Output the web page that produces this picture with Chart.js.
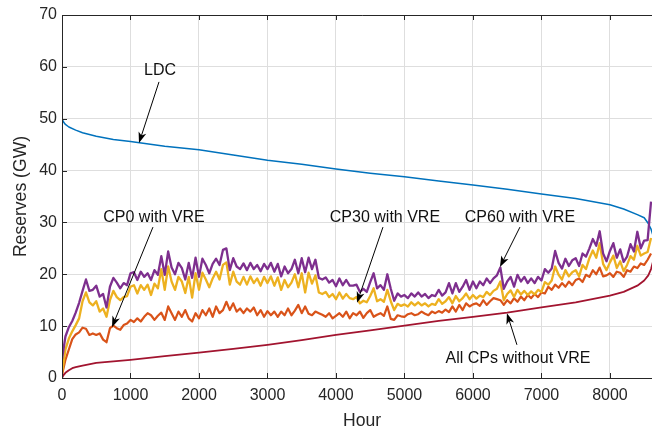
<!DOCTYPE html>
<html><head><meta charset="utf-8">
<script src="https://cdn.jsdelivr.net/npm/chart.js@4.4.1/dist/chart.umd.min.js"></script>
<style>
html,body{margin:0;padding:0;overflow:hidden;background:#fff;width:652px;height:432px}
#wrap{width:668px;height:432px;position:relative}
</style></head>
<body><div id="wrap"><canvas id="c" width="668" height="432"></canvas></div>
<script>
// ---- data ----
const hours = [
0,50,100,150,200,250,300,350,400,450,500,550,600,650,700,750,800,850,900,950,
1000,1050,1100,1150,1200,1250,1300,1350,1400,1450,1500,1550,1600,1650,1700,1750,1800,1850,1900,1950,
2000,2050,2100,2150,2200,2250,2300,2350,2400,2450,2500,2550,2600,2650,2700,2750,2800,2850,2900,2950,
3000,3050,3100,3150,3200,3250,3300,3350,3400,3450,3500,3550,3600,3650,3700,3750,3800,3850,3900,3950,
4000,4050,4100,4150,4200,4250,4300,4350,4400,4450,4500,4550,4600,4650,4700,4750,4800,4850,4900,4950,
5000,5050,5100,5150,5200,5250,5300,5350,5400,5450,5500,5550,5600,5650,5700,5750,5800,5850,5900,5950,
6000,6050,6100,6150,6200,6250,6300,6350,6400,6450,6500,6550,6600,6650,6700,6750,6800,6850,6900,6950,
7000,7050,7100,7150,7200,7250,7300,7350,7400,7450,7500,7550,7600,7650,7700,7750,7800,7850,7900,7950,
8000,8050,8100,8150,8200,8250,8300,8350,8400,8450,8500,8550,8600];

const cp60WithVRE = [
3.6,8.0,9.8,11.0,12.6,14.5,16.8,19.0,16.8,17.0,17.8,15.7,16.2,13.6,17.6,19.3,18.4,17.3,18.3,17.9,
20.2,20.4,18.9,20.5,19.5,20.2,18.9,20.8,19.9,23.5,19.9,24.4,21.3,20.0,22.2,21.2,19.0,22.2,19.3,23.2,
19.5,23.0,21.8,20.2,22.0,23.0,21.8,24.7,25.0,20.8,23.1,21.5,21.0,22.1,20.8,22.2,21.0,21.8,20.6,22.0,
21.0,22.2,20.5,22.0,19.6,21.5,20.2,21.0,22.8,20.2,23.1,20.4,23.2,21.0,22.8,19.3,19.0,19.4,18.4,18.9,
17.7,19.2,17.9,18.9,17.8,17.8,18.0,16.6,17.2,16.6,18.5,20.2,17.3,17.9,17.0,20.0,17.2,14.9,16.3,15.7,
16.0,15.4,16.3,15.7,16.5,15.7,16.2,15.4,16.0,15.8,17.0,15.9,16.5,18.3,16.3,18.3,16.6,17.6,18.9,17.0,
18.6,17.3,18.6,17.9,19.2,18.3,19.2,19.8,21.3,17.2,18.6,19.5,17.6,19.9,18.6,19.5,18.3,19.2,18.3,19.5,
18.8,21.0,20.3,21.1,24.5,22.2,21.1,23.0,21.6,22.7,23.1,21.6,24.0,23.4,25.0,26.8,25.5,28.3,24.0,22.5,
24.5,26.0,23.2,24.8,22.4,23.4,25.8,24.4,28.2,25.0,26.5,26.6,34.0];

const cp30WithVRE = [
0.9,5.5,7.6,9.0,10.2,11.5,14.8,16.5,14.6,14.0,14.8,12.8,13.4,11.8,15.0,16.8,15.6,15.0,15.6,15.8,
17.6,17.9,16.3,17.9,17.0,18.0,16.0,18.2,17.3,21.0,17.0,21.5,18.6,17.0,19.5,18.6,16.4,19.5,15.5,20.2,
17.0,20.3,19.0,17.5,19.2,20.5,19.0,21.8,22.3,18.0,20.5,18.6,18.0,19.5,18.0,19.6,18.3,19.2,17.8,19.5,
18.3,19.6,17.8,19.4,17.0,18.9,17.5,18.4,20.0,17.5,20.2,16.5,20.3,18.2,19.8,16.5,16.2,16.6,15.6,16.2,
15.2,16.5,15.3,16.2,15.4,15.2,15.6,14.4,14.9,14.6,15.8,17.3,14.8,15.2,14.7,17.0,14.8,13.1,14.3,13.9,
14.2,13.8,14.6,14.0,14.6,14.0,14.4,13.8,14.3,14.1,15.2,14.3,14.8,15.6,14.4,15.8,14.8,15.4,16.3,15.2,
16.0,15.3,15.9,15.6,16.6,16.0,16.8,17.2,18.6,15.0,16.2,16.9,15.6,17.0,16.1,16.8,16.0,16.7,16.1,17.0,
16.6,18.5,18.0,18.8,21.5,19.9,19.0,20.8,19.6,20.4,20.8,19.6,21.8,21.0,23.1,24.6,23.2,26.0,22.0,20.8,
22.3,23.6,21.2,22.5,20.6,21.8,23.5,22.8,25.5,23.6,24.0,24.3,27.0];

const cp0WithVRE = [
0.6,3.5,5.5,7.5,8.4,8.8,9.7,9.5,8.3,8.6,8.3,8.6,7.4,6.9,9.6,10.1,9.6,9.3,10.2,10.5,
11.2,10.8,11.5,10.9,11.8,12.5,12.1,11.2,12.0,12.6,11.2,13.8,12.5,11.2,12.8,11.8,13.1,11.5,10.9,12.5,
11.5,13.1,12.1,13.4,11.8,13.8,12.5,13.1,14.7,13.1,14.4,12.8,13.4,12.5,13.4,12.8,13.6,12.1,13.1,11.8,
12.9,12.1,12.8,11.8,12.8,12.1,13.4,12.1,13.0,14.1,12.5,13.8,12.4,12.1,12.8,12.5,12.2,11.8,12.5,11.5,
12.0,12.5,11.8,12.8,11.5,12.5,12.1,12.8,11.6,12.5,13.1,11.8,12.2,12.5,12.0,13.8,11.4,11.2,12.1,11.9,
11.8,12.3,12.5,12.1,12.3,12.8,12.4,12.1,12.8,12.5,12.9,12.6,13.2,12.7,13.8,12.8,14.1,13.1,14.4,13.8,
14.2,14.4,13.9,15.0,14.1,14.8,15.4,15.2,15.0,14.1,15.0,14.4,15.4,14.7,15.7,15.0,16.0,15.4,16.2,15.6,
16.5,16.3,17.6,17.0,18.0,17.4,18.3,17.6,18.6,17.9,18.9,19.2,18.5,19.9,19.5,20.8,20.0,21.3,19.6,19.8,
20.2,19.5,20.5,20.3,19.5,20.8,20.5,21.5,21.2,22.1,21.8,22.8,24.0];

const ldcHours  = [0,25,50,100,200,300,500,750,1000,1500,2000,2500,3000,3500,4000,4500,5000,5500,6000,6500,7000,7500,8000,8200,8400,8500,8560,8600,8640];
const ldcValues = [50.0,49.3,48.9,48.4,47.8,47.3,46.6,46.0,45.6,44.7,44.0,43.0,42.0,41.2,40.3,39.5,38.8,38.0,37.2,36.4,35.5,34.6,33.4,32.6,31.5,30.9,29.8,28.7,27.0];

const noVREHours  = [0,25,50,100,150,200,300,500,750,1000,1500,2000,2500,3000,3500,4000,4500,5000,5500,6000,6500,7000,7500,8000,8200,8400,8500,8560,8600,8640];
const noVREValues = [0,0.6,1.0,1.5,1.9,2.1,2.4,2.9,3.2,3.5,4.2,4.9,5.6,6.4,7.3,8.3,9.2,10.1,11.0,11.8,12.6,13.6,14.6,15.9,16.6,17.8,18.8,19.8,21.0,23.0];

const xTicks = [0,1000,2000,3000,4000,5000,6000,7000,8000];
const yTicks = [0,10,20,30,40,50,60,70];

// annotation labels (data units) and arrows (tail -> head, data units)
const annText  = ['LDC','CP0 with VRE','CP30 with VRE','CP60 with VRE','All CPs without VRE'];
const annX     = [1431, 1343, 4715, 6686, 6657];
const annY     = [59.2, 30.9, 31.0, 31.0, 3.7];
const arrTailX = [1416, 1328, 4686, 6686, 6642];
const arrTailY = [57.1, 29.1, 29.1, 29.1, 6.4];
const arrHeadX = [1124, 730, 4307, 6394, 6496];
const arrHeadY = [45.3, 9.8, 14.5, 21.4, 12.5];

// ---- chart ----
const pts = (xs, ys) => xs.map((x, i) => ({x, y: ys[i]}));
const FONT = '"Liberation Sans", Arial, sans-serif';
const AXC = '#262626';

const boxPlugin = {
  id: 'box',
  afterDatasetsDraw(chart) {
    const {ctx, chartArea: a, scales: {x, y}} = chart;
    ctx.save();
    ctx.strokeStyle = AXC; ctx.lineWidth = 1;
    ctx.beginPath();
    ctx.moveTo(a.left + 0.5, a.top); ctx.lineTo(a.left + 0.5, a.bottom + 0.5);
    ctx.lineTo(a.right + 0.5, a.bottom + 0.5); ctx.lineTo(a.right + 0.5, a.top + 0.5);
    ctx.lineTo(a.left, a.top + 0.5);
    xTicks.forEach(v => {
      const px = Math.round(x.getPixelForValue(v)) + 0.5;
      ctx.moveTo(px, a.bottom); ctx.lineTo(px, a.bottom - 5);
      ctx.moveTo(px, a.top); ctx.lineTo(px, a.top + 5);
    });
    yTicks.forEach(v => {
      const py = Math.round(y.getPixelForValue(v)) + 0.5;
      ctx.moveTo(a.left, py); ctx.lineTo(a.left + 5, py);
      ctx.moveTo(a.right, py); ctx.lineTo(a.right - 5, py);
    });
    ctx.stroke();

    // arrows
    ctx.strokeStyle = '#000'; ctx.fillStyle = '#000'; ctx.lineWidth = 1;
    annText.forEach((t, i) => {
      const x0 = x.getPixelForValue(arrTailX[i]), y0 = y.getPixelForValue(arrTailY[i]);
      const x1 = x.getPixelForValue(arrHeadX[i]), y1 = y.getPixelForValue(arrHeadY[i]);
      const ang = Math.atan2(y1 - y0, x1 - x0);
      const L = 11, W = 4;
      const bx = x1 - L * Math.cos(ang), by = y1 - L * Math.sin(ang);
      ctx.beginPath(); ctx.moveTo(x0, y0); ctx.lineTo(x1 - 6 * Math.cos(ang), y1 - 6 * Math.sin(ang)); ctx.stroke();
      ctx.beginPath();
      ctx.moveTo(x1, y1);
      ctx.lineTo(bx + W * Math.sin(ang), by - W * Math.cos(ang));
      ctx.lineTo(x1 - 8 * Math.cos(ang), y1 - 8 * Math.sin(ang));
      ctx.lineTo(bx - W * Math.sin(ang), by + W * Math.cos(ang));
      ctx.closePath(); ctx.fill();
    });
    // labels
    ctx.font = '16px ' + FONT; ctx.textAlign = 'center'; ctx.textBaseline = 'middle';
    ctx.fillStyle = '#111';
    annText.forEach((t, i) => ctx.fillText(t, x.getPixelForValue(annX[i]), y.getPixelForValue(annY[i])));
    ctx.restore();
  }
};

const line = (label, data, color, w) => ({
  label, data, borderColor: color, backgroundColor: color, borderWidth: w,
  pointRadius: 0, tension: 0, fill: false, borderJoinStyle: 'round'
});

new Chart(document.getElementById('c'), {
  type: 'line',
  data: {
    datasets: [
      line('All CPs without VRE', pts(noVREHours, noVREValues), '#A2142F', 1.8),
      line('CP60 with VRE', pts(hours, cp60WithVRE), '#7E2F8E', 2.3),
      line('CP30 with VRE', pts(hours, cp30WithVRE), '#EDB120', 2.3),
      line('CP0 with VRE', pts(hours, cp0WithVRE), '#D95319', 2.2),
      line('LDC', pts(ldcHours, ldcValues), '#0072BD', 1.5)
    ]
  },
  options: {
    responsive: false, animation: false, devicePixelRatio: 1, events: [],
    layout: {padding: {top: 15, right: 6, left: 0, bottom: 0}},
    plugins: {legend: {display: false}, tooltip: {enabled: false}},
    scales: {
      x: {
        type: 'linear', min: 0, max: 8760,
        afterBuildTicks: s => { s.ticks = xTicks.map(v => ({value: v})); },
        afterFit: s => { s.height = 54; },
        grid: {color: '#dedede', drawTicks: false},
        border: {display: false},
        ticks: {color: AXC, font: {family: FONT, size: 16}, padding: 8, maxRotation: 0, callback: v => String(v)},
        title: {display: true, text: 'Hour', color: AXC, font: {family: FONT, size: 17.6}, padding: {top: 0, bottom: 0}}
      },
      y: {
        type: 'linear', min: 0, max: 70,
        afterBuildTicks: s => { s.ticks = yTicks.map(v => ({value: v})); },
        afterFit: s => { s.width = 62; },
        grid: {color: '#dedede', drawTicks: false},
        border: {display: false},
        ticks: {color: AXC, font: {family: FONT, size: 16}, padding: 5, callback: v => String(v)},
        title: {display: true, text: 'Reserves (GW)', color: AXC, font: {family: FONT, size: 17.6}, padding: {top: 11, bottom: 0}}
      }
    }
  },
  plugins: [boxPlugin]
});
</script>
</body></html>
